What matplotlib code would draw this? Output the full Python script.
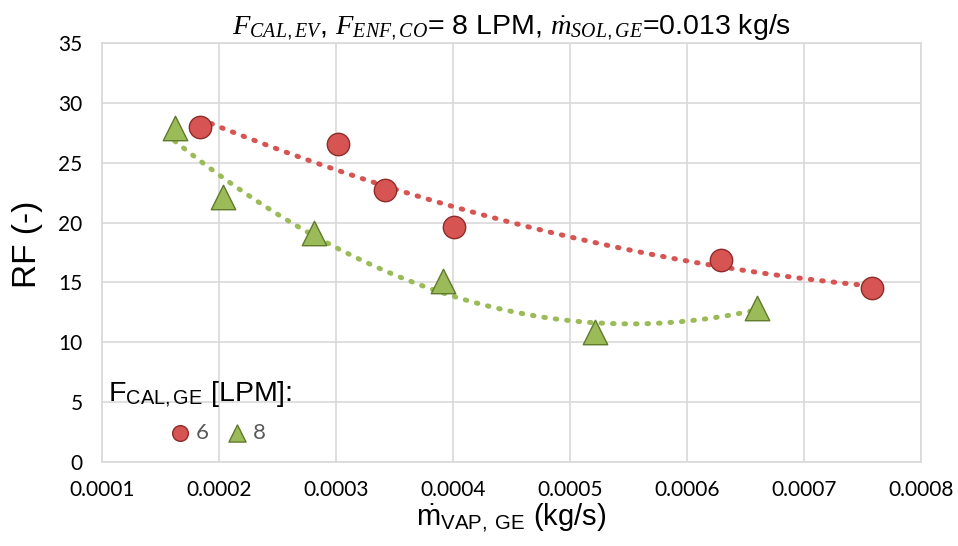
import matplotlib.pyplot as plt
import numpy as np

plt.rcParams["font.family"] = ["Liberation Sans", "DejaVu Sans"]
plt.rcParams["mathtext.fontset"] = "custom"
plt.rcParams["mathtext.rm"] = "Liberation Sans"
plt.rcParams["mathtext.it"] = "Liberation Serif:italic"

# F_CAL,GE = 6 LPM
x_6 = [0.000184, 0.000302, 0.000342, 0.000401, 0.000629, 0.000758]
rf_6 = [28.0, 26.6, 22.75, 19.6, 16.85, 14.55]
# F_CAL,GE = 8 LPM
x_8 = [0.000162, 0.000203, 0.000281, 0.000391, 0.000521, 0.000660]
rf_8 = [27.9, 22.1, 19.1, 15.1, 10.9, 12.9]

xtick_labels = ["0.0001", "0.0002", "0.0003", "0.0004", "0.0005",
                "0.0006", "0.0007", "0.0008"]

red, red_edge = "#d65552", "#8e2c2a"
green, green_edge = "#9bbb59", "#5f7a2a"

fig = plt.figure(figsize=(9.58, 5.46), dpi=100)
ax = fig.add_axes([0.1065, 0.1538, 0.855, 0.7674])

# polynomial trend lines (2nd order, like Excel)
for xs, ys, c in [(x_6, rf_6, red), (x_8, rf_8, green)]:
    coef = np.polyfit(xs, ys, 2)
    xx = np.linspace(min(xs), max(xs), 200)
    ax.plot(xx, np.polyval(coef, xx), color=c, lw=3.6, ls=(0, (0.3, 2.0)),
            dash_capstyle="round", zorder=2)

ax.scatter(x_6, rf_6, s=260, marker="o", color=red, edgecolor=red_edge,
           linewidth=1.0, zorder=3, label="6")
ax.scatter(x_8, rf_8, s=310, marker="^", color=green, edgecolor=green_edge,
           linewidth=1.0, zorder=3, label="8")

ax.set_xlim(0.0001, 0.0008)
ax.set_ylim(0, 35)
ax.set_xticks(np.arange(0.0001, 0.00081, 0.0001))
ax.set_xticklabels(xtick_labels)
ax.set_yticks(range(0, 36, 5))
for lab in ax.get_xticklabels() + ax.get_yticklabels():
    lab.set_family("Lato")
ax.grid(True, color="#d9d9d9", lw=1.2)
ax.set_axisbelow(True)
for s in ax.spines.values():
    s.set_color("#d9d9d9")
    s.set_linewidth(1.2)
ax.tick_params(length=0, labelsize=15)
ax.tick_params(axis="y", pad=14)
ax.tick_params(axis="x", pad=13)

ax.set_xlabel(r"$\dot{\mathrm{m}}_\mathrm{VAP,\ GE}$ (kg/s)", fontsize=21, labelpad=1)
ax.set_ylabel("RF (-)", fontsize=24)
ax.yaxis.set_label_coords(-0.072, 0.52)
ax.set_title(r"$F_{CAL,EV}$, $F_{ENF,CO}$= 8 LPM, $\dot{m}_{SOL,GE}$=0.013 kg/s",
             fontsize=20.5, pad=5)

ax.text(0.007, 0.145, r"F$_\mathrm{CAL,GE}$ [LPM]:", transform=ax.transAxes,
        fontsize=20.5, ha="left", va="baseline")
leg = ax.legend(ncol=2, frameon=False, loc="center left",
                bbox_to_anchor=(0.065, 0.069), handletextpad=0.0,
                columnspacing=0.6, markerscale=0.7, handlelength=1.4,
                prop={"family": "Lato", "size": 16}, borderaxespad=0)
for t in leg.get_texts():
    t.set_color("#595959")

fig.savefig("out.png", dpi=100)
